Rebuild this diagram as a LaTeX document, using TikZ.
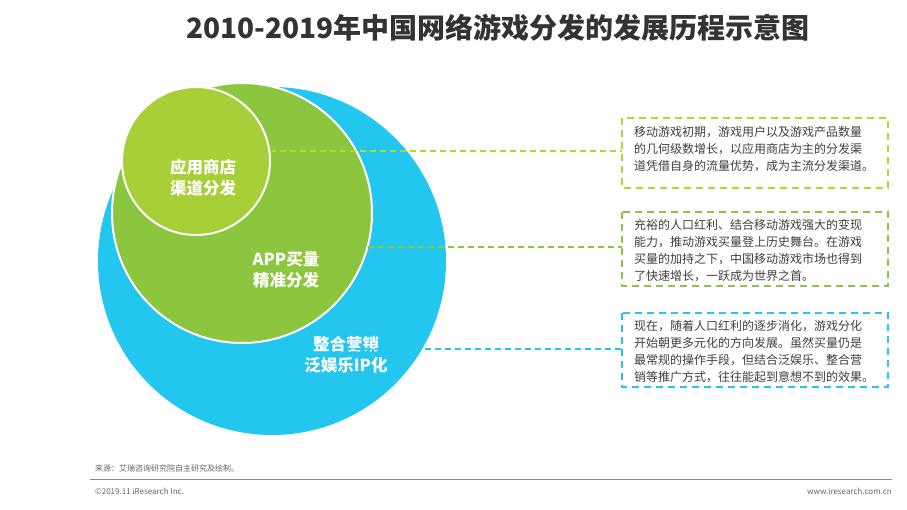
\documentclass[tikz,border=0pt]{standalone}
\usepackage{fontspec}
\setmainfont{Noto Sans CJK SC}
\begin{document}
\begin{tikzpicture}[x=1pt,y=-1pt,
  lbl/.style={text=white,font=\fontsize{16.5}{21}\selectfont\bfseries,align=center},
  desc/.style={font=\fontsize{12}{17}\selectfont,text=black!75,align=left,anchor=north west,inner sep=0pt},
  box/.style={dashed,line width=2pt,dash pattern=on 7pt off 5pt},
  conn/.style={dashed,line width=1.5pt,dash pattern=on 6pt off 4pt}]
\useasboundingbox (0,0) rectangle (907,509);
\fill[white] (0,0) rectangle (907,509);
\definecolor{cblue}{HTML}{22C6EE}
\definecolor{cgreen}{HTML}{8CC63F}
\definecolor{clight}{HTML}{A8CE38}
\definecolor{cyel}{HTML}{B5D334}
\node[font=\fontsize{28}{32}\selectfont\bfseries,text=black!80] (title) at (498,28) {2010-2019年中国网络游戏分发的发展历程示意图};
\fill[cblue] (272,261) circle (174);
\draw[white,line width=2pt,fill=cgreen] (242,213) circle (130);
\draw[white,line width=2pt,fill=clight] (196,161) circle (74);
\node[lbl] (l1) at (203,178) {应用商店\\渠道分发};
\node[lbl] (l2) at (286,270) {APP买量\\精准分发};
\node[lbl] (l3) at (346,355) {整合营销\\泛娱乐IP化};
\draw[box,cyel] (622,118) rectangle (888,188);
\draw[box,cgreen] (622,212) rectangle (888,286);
\draw[box,cblue] (622,313) rectangle (888,387);
\node[desc] (t1) at (634,126) {移动游戏初期，游戏用户以及游戏产品数量\\的几何级数增长，以应用商店为主的分发渠\\道凭借自身的流量优势，成为主流分发渠道。};
\node[desc] (t2) at (634,219) {充裕的人口红利、结合移动游戏强大的变现\\能力，推动游戏买量登上历史舞台。在游戏\\买量的加持之下，中国移动游戏市场也得到\\了快速增长，一跃成为世界之首。};
\node[desc] (t3) at (634,320) {现在，随着人口红利的逐步消化，游戏分化\\开始朝更多元化的方向发展。虽然买量仍是\\最常规的操作手段，但结合泛娱乐、整合营\\销等推广方式，往往能起到意想不到的效果。};
\coordinate (a1) at (270,151); \coordinate (b1) at (622,151);
\coordinate (a2) at (358,247); \coordinate (b2) at (622,247);
\coordinate (a3) at (345,349); \coordinate (b3) at (622,349);
\draw[conn,cyel] (a1) -- (b1);
\draw[conn,cgreen] (a2) -- (b2);
\draw[conn,cblue] (a3) -- (b3);
\node[anchor=west,font=\fontsize{8}{10}\selectfont,text=black!60,inner sep=0pt] (src) at (95,468) {来源：艾瑞咨询研究院自主研究及绘制。};
\draw[black!45,line width=1pt] (90,479) -- (892,479);
\node[anchor=west,font=\fontsize{8}{10}\selectfont,text=black!60,inner sep=0pt] (cp) at (95,491) {©2019.11 iResearch Inc.};
\node[anchor=east,font=\fontsize{8}{10}\selectfont,text=black!60,inner sep=0pt] (web) at (892,491) {www.iresearch.com.cn};
\end{tikzpicture}
\end{document}
